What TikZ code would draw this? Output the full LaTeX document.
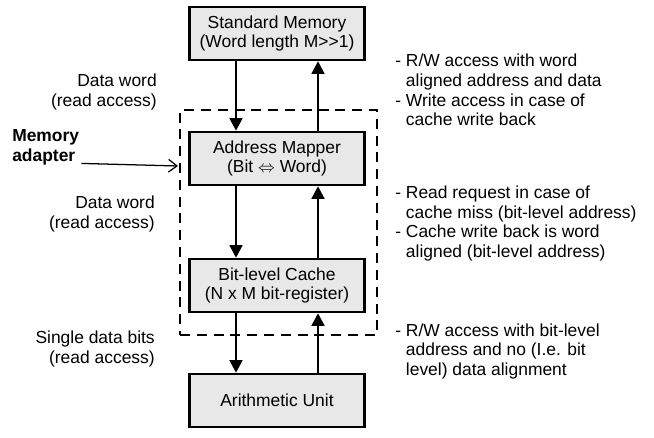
\documentclass[tikz,border=0pt]{standalone}
\usepackage{fontspec}
\setmainfont{Liberation Sans}
\usetikzlibrary{arrows.meta}

\tikzstyle{unitbox} = [draw=black, line width=1.7pt, fill=black!9, minimum width=4.375cm, minimum height=1.325cm, align=center, inner sep=0pt]
\tikzstyle{dataline} = [line width=1.9pt, -{Triangle[length=9pt,width=9pt]}]
\tikzstyle{adapterbox} = [draw=black, line width=1.6pt, dash pattern=on 0.25cm off 0.17cm, minimum width=4.925cm, minimum height=5.625cm, inner sep=0pt]
\tikzstyle{sidetext} = [align=right, anchor=east, inner sep=0pt]
\tikzstyle{notetext} = [align=left, anchor=west, inner sep=0pt]

\begin{document}
\begin{tikzpicture}[font=\fontsize{12.4}{14}\selectfont]
\useasboundingbox (0,0) rectangle (16.35,10.95);

\node[adapterbox] (adapter) at (6.9625,5.3875) {};

\node[unitbox] (stdmem) at (6.925,10.1125) {Standard Memory\\(Word length M>{}>1)};
\node[unitbox] (addrmap) at (6.925,6.9875) {Address Mapper\\(Bit $\Leftrightarrow$ Word)};
\node[unitbox] (bitcache) at (6.925,3.8125) {Bit-level Cache\\(N x M bit-register)};
\node[unitbox] (arith) at (6.925,0.9375) {Arithmetic Unit};

\node[sidetext] (word1) at (3.925,8.65) {Data word\\(read access)};
\node[sidetext] (word2) at (3.875,5.6) {Data word\\(read access)};
\node[sidetext] (bits) at (3.875,2.225) {Single data bits\\(read access)};
\node[notetext, font=\fontsize{12.4}{14}\selectfont\bfseries] (madapter) at (0.3,7.2625) {Memory\\adapter};
\coordinate (mtip) at (4.45,6.8);

\node[notetext] (note1) at (9.875,8.644) {\begin{tabular}{@{}l@{~}l@{}}
- & R/W access with word\\
  & aligned address and data\\
- & Write access in case of\\
  & cache write back
\end{tabular}};
\node[notetext] (note2) at (9.875,5.35) {\begin{tabular}{@{}l@{~}l@{}}
- & Read request in case of\\
  & cache miss (bit-level address)\\
- & Cache write back is word\\
  & aligned (bit-level address)
\end{tabular}};
\node[notetext] (note3) at (9.875,2.15) {\begin{tabular}{@{}l@{~}l@{}}
- & R/W access with bit-level\\
  & address and no (I.e. bit\\
  & level) data alignment
\end{tabular}};

\draw[dataline] ([xshift=-1.025cm]stdmem.south) -- ([xshift=-1.025cm]addrmap.north);
\draw[dataline] ([xshift=1.025cm]addrmap.north) -- ([xshift=1.025cm]stdmem.south);
\draw[dataline] ([xshift=-1.025cm]addrmap.south) -- ([xshift=-1.025cm]bitcache.north);
\draw[dataline] ([xshift=1.025cm]bitcache.north) -- ([xshift=1.025cm]addrmap.south);
\draw[dataline] ([xshift=-1.025cm]bitcache.south) -- ([xshift=-1.025cm]arith.north);
\draw[dataline] ([xshift=1.025cm]arith.north) -- ([xshift=1.025cm]bitcache.south);

\draw[line width=0.9pt, -{Straight Barb[length=6pt,width=9pt]}] ([xshift=0.05cm,yshift=0.05cm]madapter.south east) -- (mtip);
\end{tikzpicture}
\end{document}
